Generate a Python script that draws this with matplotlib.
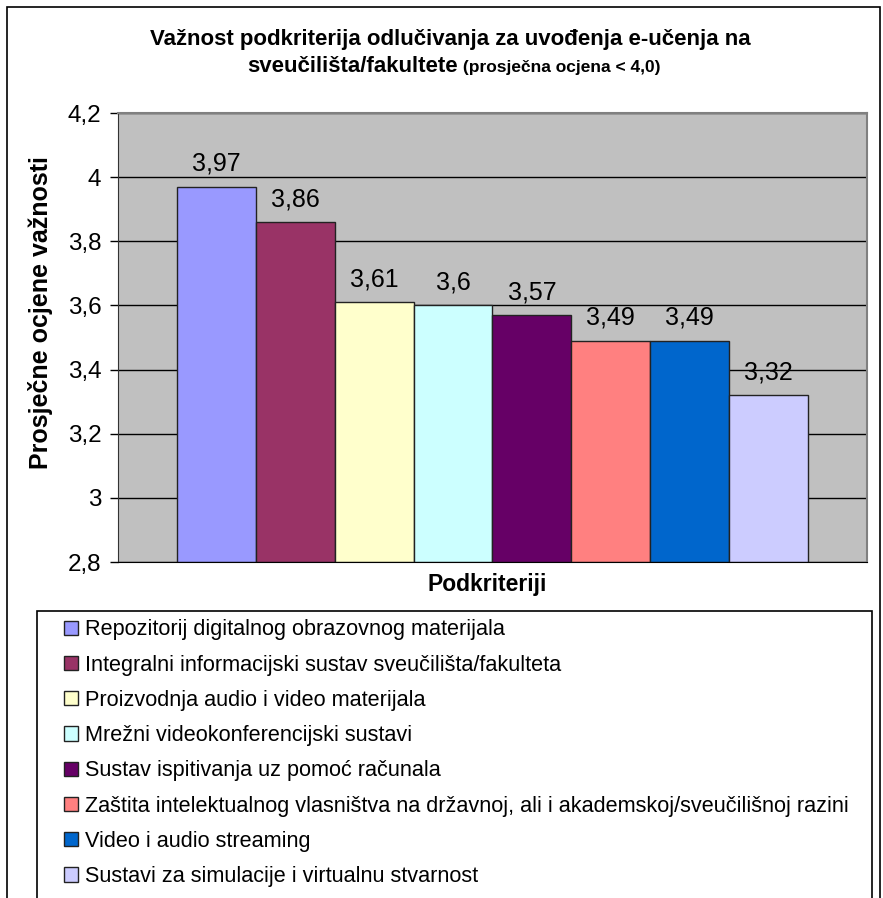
import matplotlib
matplotlib.use("Agg")
import matplotlib.pyplot as plt
from matplotlib.patches import Rectangle

plt.rcParams['font.family'] = ['Liberation Sans', 'DejaVu Sans']

# ── Data ─────────────────────────────────────────────────────────────────────
labels = [
    "Repozitorij digitalnog obrazovnog materijala",
    "Integralni informacijski sustav sveučilišta/fakulteta",
    "Proizvodnja audio i video materijala",
    "Mrežni videokonferencijski sustavi",
    "Sustav ispitivanja uz pomoć računala",
    "Zaštita intelektualnog vlasništva na državnoj, ali i akademskoj/sveučilišnoj razini",
    "Video i audio streaming",
    "Sustavi za simulacije i virtualnu stvarnost",
]
values = [3.97, 3.86, 3.61, 3.60, 3.57, 3.49, 3.49, 3.32]
value_text = ["3,97", "3,86", "3,61", "3,6", "3,57", "3,49", "3,49", "3,32"]
colors = ["#9999FF", "#993366", "#FFFFCC", "#CCFFFF",
          "#660066", "#FF8080", "#0066CC", "#CCCCFF"]
yticks = [2.8, 3.0, 3.2, 3.4, 3.6, 3.8, 4.0, 4.2]
ytick_labels = ["2,8", "3", "3,2", "3,4", "3,6", "3,8", "4", "4,2"]

W, H = 883, 898
fig = plt.figure(figsize=(W / 100, H / 100), dpi=100)

# outer chart border (bottom runs off the image)
fig.patches.append(Rectangle((7 / W, -0.05), 873 / W, 1 - 7 / H + 0.05,
                             transform=fig.transFigure, fill=False,
                             edgecolor="black", linewidth=1.2))

# ── Plot area ────────────────────────────────────────────────────────────────
ax = fig.add_axes([118 / W, 1 - 562 / H, 749 / W, 449 / H])
ax.set_facecolor("#C0C0C0")
ax.set_axisbelow(True)

bars = []
for i, (v, c, lab) in enumerate(zip(values, colors, labels)):
    b = ax.bar(i, v - 2.8, bottom=2.8, width=1.0, color=c,
               edgecolor="#222222", linewidth=1.0, label=lab)
    bars.append(b)
    ax.annotate(value_text[i], (i, v), xytext=(0, 11.5), textcoords="offset points",
                ha="center", va="baseline", fontsize=18)

ax.set_xlim(-1.25, 8.25)
ax.set_ylim(2.8, 4.2)
ax.set_yticks(yticks)
ax.set_yticklabels(ytick_labels, fontsize=17.5)
ax.set_xticks([])
ax.yaxis.grid(True, color="black", linewidth=1.0)
ax.tick_params(axis="y", length=6, width=1, pad=6)

for side in ["top", "right"]:
    ax.spines[side].set_color("#808080")
    ax.spines[side].set_linewidth(1.5)
ax.spines["left"].set_color("#333333")
ax.spines["bottom"].set_color("black")

# ── Texts ────────────────────────────────────────────────────────────────────
fig.text(450 / W, 1 - 45 / H,
         "Važnost podkriterija odlučivanja za uvođenja e-učenja na",
         ha="center", va="baseline", fontsize=16, fontweight="bold")

renderer = fig.canvas.get_renderer()
t1 = fig.text(0, 1 - 72 / H, "sveučilišta/fakultete", ha="left", va="baseline",
              fontsize=16, fontweight="bold")
t2 = fig.text(0, 1 - 72 / H, " (prosječna ocjena < 4,0)", ha="left", va="baseline",
              fontsize=12.5, fontweight="bold")
w1 = t1.get_window_extent(renderer).width
w2 = t2.get_window_extent(renderer).width
x0 = 454 - (w1 + w2) / 2
t1.set_x(x0 / W)
t2.set_x((x0 + w1) / W)

fig.text(41 / W, 1 - 313 / H, "Prosječne ocjene važnosti", rotation=90,
         ha="center", va="center", fontsize=18, fontweight="bold")
fig.text(487 / W, 1 - 585 / H, "Podkriteriji", ha="center", va="center",
         fontsize=16.5, fontweight="bold")

# ── Legend ───────────────────────────────────────────────────────────────────
fig.patches.append(Rectangle((37 / W, -0.05), 835 / W, 1 - 611 / H + 0.05,
                             transform=fig.transFigure, fill=False,
                             edgecolor="black", linewidth=1.2))
fig.legend(handles=bars, labels=labels, loc="upper left",
           bbox_to_anchor=(47 / W, 1 - 602 / H), frameon=False,
           fontsize=15.55, handlelength=0.64, handleheight=0.64,
           handletextpad=0.32, labelspacing=0.66, borderpad=0.3)

fig.savefig("out.png", dpi=100)
